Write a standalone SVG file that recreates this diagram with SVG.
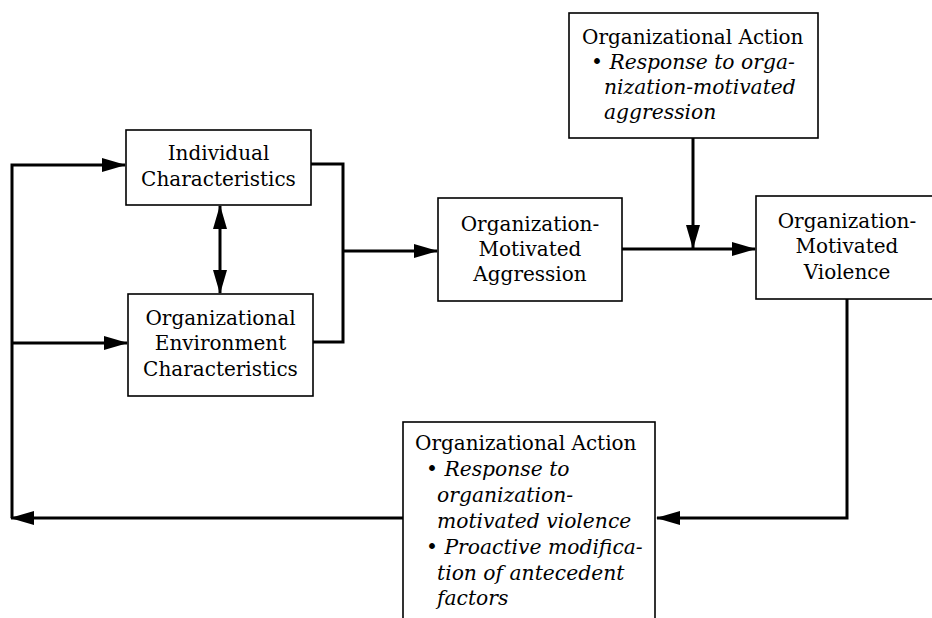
<svg xmlns="http://www.w3.org/2000/svg" width="932" height="618" viewBox="0 0 932 618">
<style>
  .box { fill: #fff; stroke: #000; stroke-width: 1.6; }
  .t { font-family: "DejaVu Serif", "Liberation Serif", serif; font-size: 20px; fill: #000; }
  .c { text-anchor: middle; }
  .i { font-style: italic; font-size: 20.3px; }
  .conn { fill: none; stroke: #000; stroke-width: 3; }
</style>
<defs>
  <marker id="ah" markerUnits="userSpaceOnUse" markerWidth="24" markerHeight="16" refX="23" refY="8" orient="auto-start-reverse">
    <path d="M0,1 L24,8 L0,15 Z" fill="#000"/>
  </marker>
</defs>
<rect width="932" height="618" fill="#fff"/>

<g id="connectors">
  <polyline class="conn" points="311,164 343,164 343,342 313,342"/>
  <line class="conn" x1="343" y1="251" x2="437" y2="251" marker-end="url(#ah)"/>
  <line class="conn" x1="622" y1="249" x2="755" y2="249" marker-end="url(#ah)"/>
  <line class="conn" x1="693" y1="138" x2="693" y2="248" marker-end="url(#ah)"/>
  <line class="conn" x1="220" y1="206" x2="220" y2="293" marker-start="url(#ah)" marker-end="url(#ah)"/>
  <polyline class="conn" points="847,299 847,518 657,518" marker-end="url(#ah)"/>
  <line class="conn" x1="403" y1="518" x2="11" y2="518" marker-end="url(#ah)"/>
  <polyline class="conn" points="12,518 12,165 125,165" marker-end="url(#ah)"/>
  <line class="conn" x1="12" y1="343" x2="127" y2="343" marker-end="url(#ah)"/>
</g>

<g id="node-top-action">
  <rect class="box" x="569" y="13" width="249" height="125"/>
  <text class="t" x="582" y="44">Organizational Action</text>
  <text class="t i" x="591" y="69">• Response to orga-</text>
  <text class="t i" x="604" y="94">nization-motivated</text>
  <text class="t i" x="604" y="119">aggression</text>
</g>

<g id="node-individual">
  <rect class="box" x="126" y="130" width="185" height="75"/>
  <text class="t c" x="218.5" y="160">Individual</text>
  <text class="t c" x="218.5" y="186">Characteristics</text>
</g>

<g id="node-environment">
  <rect class="box" x="128" y="294" width="185" height="102"/>
  <text class="t c" x="220.5" y="325">Organizational</text>
  <text class="t c" x="220.5" y="350">Environment</text>
  <text class="t c" x="220.5" y="376">Characteristics</text>
</g>

<g id="node-aggression">
  <rect class="box" x="438" y="198" width="184" height="103"/>
  <text class="t c" x="530" y="231">Organization-</text>
  <text class="t c" x="530" y="256">Motivated</text>
  <text class="t c" x="530" y="281">Aggression</text>
</g>

<g id="node-violence">
  <rect class="box" x="756" y="196" width="184" height="103"/>
  <text class="t c" x="847" y="228">Organization-</text>
  <text class="t c" x="847" y="253">Motivated</text>
  <text class="t c" x="847" y="279">Violence</text>
</g>

<g id="node-bottom-action">
  <rect class="box" x="403" y="422" width="252" height="210"/>
  <text class="t" x="415" y="450">Organizational Action</text>
  <text class="t i" x="426" y="476">• Response to</text>
  <text class="t i" x="437" y="502">organization-</text>
  <text class="t i" x="437" y="528">motivated violence</text>
  <text class="t i" x="426" y="554">• Proactive modifica-</text>
  <text class="t i" x="437" y="580">tion of antecedent</text>
  <text class="t i" x="437" y="605">factors</text>
</g>
</svg>
